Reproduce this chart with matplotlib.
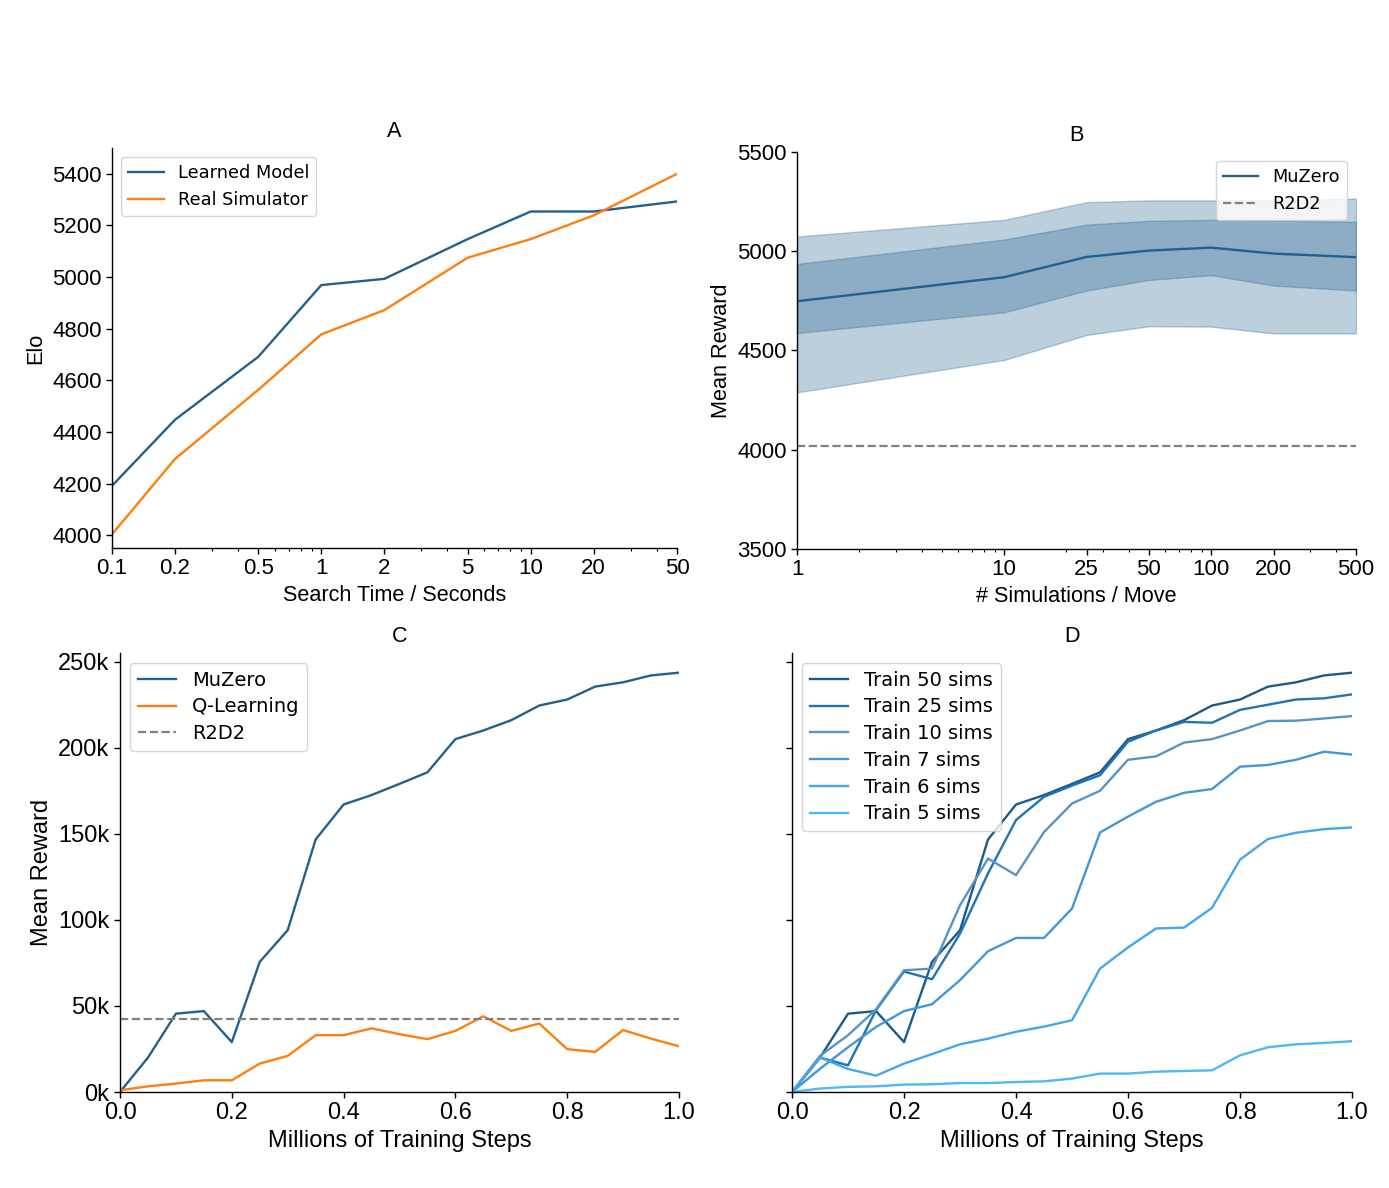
import matplotlib
matplotlib.use("Agg")
import matplotlib.pyplot as plt
import matplotlib.ticker as mticker
import numpy as np

# ---------------- data ----------------
# Panel A
search_time = [0.1, 0.2, 0.5, 1, 2, 5, 10, 20, 50]
elo_learned = [4191, 4447, 4691, 4969, 4993, 5147, 5254, 5254, 5293]
elo_real = [4003, 4295, 4563, 4778, 4872, 5075, 5147, 5239, 5400]
a_xticks = [0.1, 0.2, 0.5, 1, 2, 5, 10, 20, 50]
a_xticklabels = ["0.1", "0.2", "0.5", "1", "2", "5", "10", "20", "50"]

# Panel B
sims = [1, 10, 25, 50, 100, 200, 500]
b_mean = [4748, 4869, 4971, 5003, 5018, 4988, 4970]
b_inner_hi = [4936, 5059, 5134, 5153, 5158, 5155, 5148]
b_inner_lo = [4588, 4692, 4802, 4855, 4879, 4827, 4802]
b_outer_hi = [5074, 5158, 5247, 5256, 5256, 5256, 5265]
b_outer_lo = [4289, 4452, 4578, 4622, 4620, 4586, 4586]
b_r2d2 = 4020
b_xticks = [1, 10, 25, 50, 100, 200, 500]
b_xticklabels = ["1", "10", "25", "50", "100", "200", "500"]

# Panel C / D
steps = [0.0, 0.05, 0.1, 0.15, 0.2, 0.25, 0.3, 0.35, 0.4, 0.45, 0.5,
         0.55, 0.6, 0.65, 0.7, 0.75, 0.8, 0.85, 0.9, 0.95, 1.0]
c_muzero = [0, 20000, 45500, 47000, 29000, 75600, 94000, 146700, 167000, 172500, 179000,
            185700, 205000, 210000, 216000, 224500, 228000, 235500, 238000, 242000, 243600]
c_qlearn = [1000, 3300, 4900, 6800, 6800, 16500, 21000, 33000, 33000, 37000, 33600,
            30700, 35500, 44000, 35500, 39800, 24900, 23300, 36000, 31000, 26600]
c_r2d2 = 42700

d_train50 = c_muzero
d_train25 = [0, 20000, 15500, 47500, 70000, 65500, 92000, 127000, 158000, 171500, 178000,
             184000, 203500, 210000, 215000, 214500, 222000, 225000, 228000, 228700, 231000]
d_train10 = [0, 21000, 33000, 48000, 70700, 71700, 108500, 135600, 126000, 151000, 167600,
             175000, 193000, 195000, 203000, 205000, 210000, 215500, 215700, 217000, 218400]
d_train7 = [0, 13500, 26000, 37800, 47000, 51000, 65000, 81800, 89500, 89500, 106600,
            150800, 160000, 168600, 173800, 176000, 189000, 190000, 193000, 197700, 196000]
d_train6 = [0, 20000, 13400, 9500, 16500, 22000, 27700, 31000, 35000, 38000, 41700,
            71700, 84000, 95000, 95500, 107000, 135000, 147000, 150600, 152700, 153700]
d_train5 = [0, 2000, 3000, 3300, 4300, 4500, 5200, 5200, 5800, 6200, 7800,
            10700, 10700, 11800, 12200, 12600, 21300, 26000, 27700, 28500, 29500]
d_series = [d_train50, d_train25, d_train10, d_train7, d_train6, d_train5]
d_labels = ["Train 50 sims", "Train 25 sims", "Train 10 sims",
            "Train 7 sims", "Train 6 sims", "Train 5 sims"]

# ---------------- style ----------------
BLUE = "#22618f"
ORANGE = "#ff7f0e"
GRAY = "#808080"
d_colors = ["#1c5a8c", "#2173b4", "#5794c6", "#4396da", "#45a6ee", "#52b6f8"]

TICK_FONT = ["Liberation Sans", "DejaVu Sans"]
LEG_FONT = ["DejaVu Sans"]
TFS_TOP = 16
LAB_TOP = 15.6
TFS_BOT = 17
LFS_TOP = 12.8
LFS_BOT = 14

plt.rcParams["font.family"] = TICK_FONT
plt.rcParams["axes.linewidth"] = 1.0

fig = plt.figure(figsize=(13.89, 11.88), dpi=100)
axA = fig.add_axes([0.0806, 0.5387, 0.4068, 0.3367])
axB = fig.add_axes([0.5738, 0.5379, 0.4024, 0.3342])
axC = fig.add_axes([0.0864, 0.0808, 0.4024, 0.3695])
axD = fig.add_axes([0.5702, 0.0808, 0.4032, 0.3695], sharey=axC)

for ax, fs in ((axA, TFS_TOP), (axB, TFS_TOP), (axC, TFS_BOT), (axD, TFS_BOT)):
    ax.spines["top"].set_visible(False)
    ax.spines["right"].set_visible(False)
    ax.tick_params(direction="out", length=4, width=1, labelsize=fs)
    ax.tick_params(which="minor", length=2, width=0.8)

def leg(ax, size, spacing=0.5, **kw):
    return ax.legend(prop={"family": LEG_FONT, "size": size}, framealpha=0.8,
                     edgecolor="#cccccc", fancybox=True, labelspacing=spacing, **kw)

# Panel A
axA.plot(search_time, elo_learned, color=BLUE, lw=1.7, label="Learned Model")
axA.plot(search_time, elo_real, color=ORANGE, lw=1.7, label="Real Simulator")
axA.set_xscale("log")
axA.set_xlim(0.1, 50)
axA.set_ylim(3950, 5500)
axA.set_xticks(a_xticks)
axA.set_xticklabels(a_xticklabels)
axA.xaxis.set_minor_formatter(mticker.NullFormatter())
axA.set_yticks([4000, 4200, 4400, 4600, 4800, 5000, 5200, 5400])
axA.set_xlabel("Search Time / Seconds", fontsize=LAB_TOP)
axA.set_ylabel("Elo", fontsize=LAB_TOP)
axA.set_title("A", fontsize=LAB_TOP, pad=8)
leg(axA, LFS_TOP, loc="upper left")

# Panel B
axB.fill_between(sims, b_outer_lo, b_outer_hi, color=BLUE, alpha=0.3, lw=1)
axB.fill_between(sims, b_inner_lo, b_inner_hi, color=BLUE, alpha=0.3, lw=1)
axB.plot(sims, b_mean, color=BLUE, lw=1.7, label="MuZero")
axB.axhline(b_r2d2, color=GRAY, ls="--", lw=1.6, label="R2D2")
axB.set_xscale("log")
axB.set_xlim(1, 500)
axB.set_ylim(3500, 5500)
axB.set_xticks(b_xticks)
axB.set_xticklabels(b_xticklabels)
axB.xaxis.set_minor_formatter(mticker.NullFormatter())
axB.set_yticks([3500, 4000, 4500, 5000, 5500])
axB.set_xlabel("# Simulations / Move", fontsize=LAB_TOP)
axB.set_ylabel("Mean Reward", fontsize=LAB_TOP)
axB.set_title("B", fontsize=LAB_TOP, pad=8)
leg(axB, LFS_TOP, loc="upper right")

# Panel C
kfmt = mticker.FuncFormatter(lambda v, p: f"{int(round(v / 1000))}k")
axC.plot(steps, c_muzero, color=BLUE, lw=1.7, label="MuZero")
axC.plot(steps, c_qlearn, color=ORANGE, lw=1.7, label="Q-Learning")
axC.axhline(c_r2d2, color=GRAY, ls="--", lw=1.6, label="R2D2")
axC.set_xlim(0, 1.0)
axC.set_ylim(0, 255000)
axC.set_yticks([0, 50000, 100000, 150000, 200000, 250000])
axC.yaxis.set_major_formatter(kfmt)
axC.set_xticks([0.0, 0.2, 0.4, 0.6, 0.8, 1.0])
axC.set_xticklabels(["0.0", "0.2", "0.4", "0.6", "0.8", "1.0"])
axC.set_xlabel("Millions of Training Steps", fontsize=TFS_BOT)
axC.set_ylabel("Mean Reward", fontsize=TFS_BOT)
axC.set_title("C", fontsize=LAB_TOP, pad=8)
leg(axC, LFS_BOT, spacing=0.4, loc="upper left")

# Panel D
for s, lab, col in zip(d_series, d_labels, d_colors):
    axD.plot(steps, s, color=col, lw=1.7, label=lab)
axD.set_xlim(0, 1.0)
axD.set_xticks([0.0, 0.2, 0.4, 0.6, 0.8, 1.0])
axD.set_xticklabels(["0.0", "0.2", "0.4", "0.6", "0.8", "1.0"])
axD.tick_params(axis="y", labelleft=False)
axD.set_xlabel("Millions of Training Steps", fontsize=TFS_BOT)
axD.set_title("D", fontsize=LAB_TOP, pad=8)
leg(axD, LFS_BOT, spacing=0.4, loc="upper left")

fig.savefig("out.png", dpi=100)
